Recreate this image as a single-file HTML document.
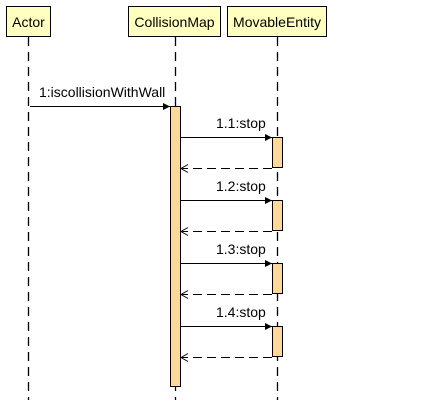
<!DOCTYPE html>
<html><head><style>body{margin:0;background:#fff}svg{display:block}text{font-family:"Liberation Sans",sans-serif;font-size:14px;fill:#000}</style></head><body>
<svg width="433" height="400" xmlns="http://www.w3.org/2000/svg">
<defs><marker id="a" markerWidth="8" markerHeight="8" refX="7" refY="4" orient="auto" markerUnits="userSpaceOnUse"><path d="M0,0.5 L7,4 L0,7.5 Z" fill="#000"/></marker>
<marker id="o" markerWidth="10" markerHeight="10" refX="8" refY="5" orient="auto" markerUnits="userSpaceOnUse"><path d="M1,1 L8,5 L1,9" fill="none" stroke="#000"/></marker></defs>
<g stroke="#000" stroke-width="1.3" stroke-dasharray="9,6">
<line x1="28.5" y1="37" x2="28.5" y2="400"/><line x1="175.5" y1="37" x2="175.5" y2="400"/><line x1="277.5" y1="37" x2="277.5" y2="400"/></g>
<g fill="#ffffc0" stroke="#000"><rect x="6.5" y="6.5" width="44" height="30"/><rect x="128.5" y="6.5" width="92" height="30"/><rect x="227.5" y="6.5" width="99" height="30"/></g>
<text x="28.5" y="27" text-anchor="middle" fill="#333">Actor</text>
<text x="174.5" y="27" text-anchor="middle">CollisionMap</text>
<text x="277" y="27" text-anchor="middle">MovableEntity</text>
<rect x="170.5" y="106.5" width="10" height="280" fill="#fcd99b" stroke="#000"/>
<line x1="30" y1="106.5" x2="170" y2="106.5" stroke="#000" marker-end="url(#a)"/>
<text x="39" y="97">1:iscollisionWithWall</text>
<g id="m">
<rect x="272.5" y="137.5" width="10" height="30" fill="#fcd99b" stroke="#000"/>
<line x1="181" y1="137.5" x2="272" y2="137.5" stroke="#000" marker-end="url(#a)"/>
<line x1="272" y1="168.5" x2="181" y2="168.5" stroke="#000" stroke-dasharray="9,5" marker-end="url(#o)"/>
</g>
<use href="#m" y="63"/><use href="#m" y="126"/><use href="#m" y="189"/>
<text x="216" y="128">1.1:stop</text>
<text x="216" y="191">1.2:stop</text>
<text x="216" y="254">1.3:stop</text>
<text x="216" y="317">1.4:stop</text>
</svg></body></html>
